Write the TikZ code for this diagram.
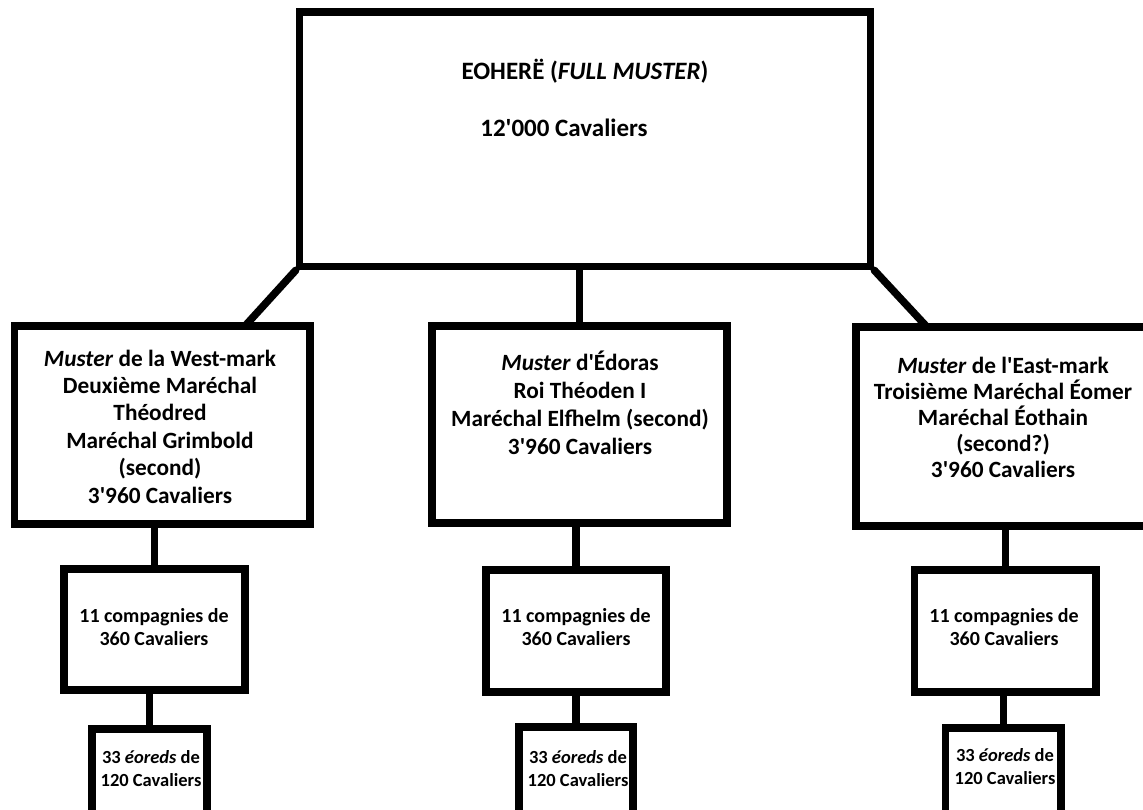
\documentclass[tikz,border=0pt]{standalone}
\usepackage{fontspec}
\setmainfont{Carlito}[Ligatures=TeXOff]
\begin{document}
\begin{tikzpicture}[x=1pt,y=-1pt,
  box/.style={draw=black,line width=7.5pt,rectangle,inner sep=0pt,fill=white},
  link/.style={draw=black,line width=7.5pt,line cap=butt},
  diag/.style={link,line cap=round},
  txt/.style={inner sep=0pt,align=center,anchor=base},
  bigtxt/.style={txt,font=\fontsize{25}{30}\selectfont\bfseries},
  maintxt/.style={txt,font=\fontsize{23.3}{#1}\selectfont\bfseries},
  comptxt/.style={txt,font=\fontsize{20}{23}\selectfont\bfseries},
  eortxt/.style={txt,font=\fontsize{18.5}{23}\selectfont\bfseries}]
\useasboundingbox (0,0) rectangle (1143,810);
\fill[white] (0,0) rectangle (1143,810);
\clip (0,0) rectangle (1143,810);
% boxes
\node[box,minimum width=571pt,minimum height=254.5pt] (top) at (585,139.25) {};
\node[box,minimum width=295.5pt,minimum height=198pt] (west) at (162.25,425) {};
\node[box,minimum width=295pt,minimum height=197pt] (mid) at (579.5,424.5) {};
\node[box,minimum width=304pt,minimum height=199pt] (east) at (1008,426.5) {};
\node[box,minimum width=181pt,minimum height=121pt] (wc) at (154.5,629.5) {};
\node[box,minimum width=180pt,minimum height=122pt] (mc) at (576,631) {};
\node[box,minimum width=181.5pt,minimum height=122pt] (ec) at (1005.25,631) {};
\node[box,minimum width=115pt,minimum height=101pt] (we) at (149.5,779.5) {};
\node[box,minimum width=114pt,minimum height=103pt] (me) at (576,778.5) {};
\node[box,minimum width=115.5pt,minimum height=102pt] (ee) at (1003.25,779) {};
% joints
\coordinate (wj) at (245,326);
\coordinate (ej) at (927,327);
% connectors
\draw[diag] (top.south west) -- (wj);
\draw[diag] (top.south east) -- (ej);
\draw[link] (mid.north) -- (mid.north |- top.south);
\draw[link] (wc.north) -- (wc.north |- west.south);
\draw[link] (mc.north) -- (mc.north |- mid.south);
\draw[link] (ec.north) -- (ec.north |- east.south);
\draw[link] (we.north) -- (we.north |- wc.south);
\draw[link] (me.north) -- (me.north |- mc.south);
\draw[link] (ee.north) -- (ee.north |- ec.south);
% texts
\node[bigtxt] (t1) at (585,80) {EOHER\"E (\textit{FULL MUSTER})};
\node[bigtxt] (t2) at (564,137) {12'000 Cavaliers};
\node[maintxt=27.4] (wt) at (160,503) {\textit{Muster} de la West-mark\\Deuxième Maréchal\\Théodred\\Maréchal Grimbold\\(second)\\3'960 Cavaliers};
\node[maintxt=28] (mt) at (580,454) {\textit{Muster} d'Édoras\\Roi Théoden I\\Maréchal Elfhelm (second)\\3'960 Cavaliers};
\node[maintxt=26] (et) at (1003,477) {\textit{Muster} de l'East-mark\\Troisième Maréchal Éomer\\Maréchal Éothain\\(second?)\\3'960 Cavaliers};
\node[comptxt] (wct) at (154,645) {11 compagnies de\\360 Cavaliers};
\node[comptxt] (mct) at (576,645) {11 compagnies de\\360 Cavaliers};
\node[comptxt] (ect) at (1004,645) {11 compagnies de\\360 Cavaliers};
\node[eortxt] (wet) at (151,786) {33 \textit{éoreds} de\\120 Cavaliers};
\node[eortxt] (met) at (578,786) {33 \textit{éoreds} de\\120 Cavaliers};
\node[eortxt] (eet) at (1005,784) {33 \textit{éoreds} de\\120 Cavaliers};
\end{tikzpicture}
\end{document}
